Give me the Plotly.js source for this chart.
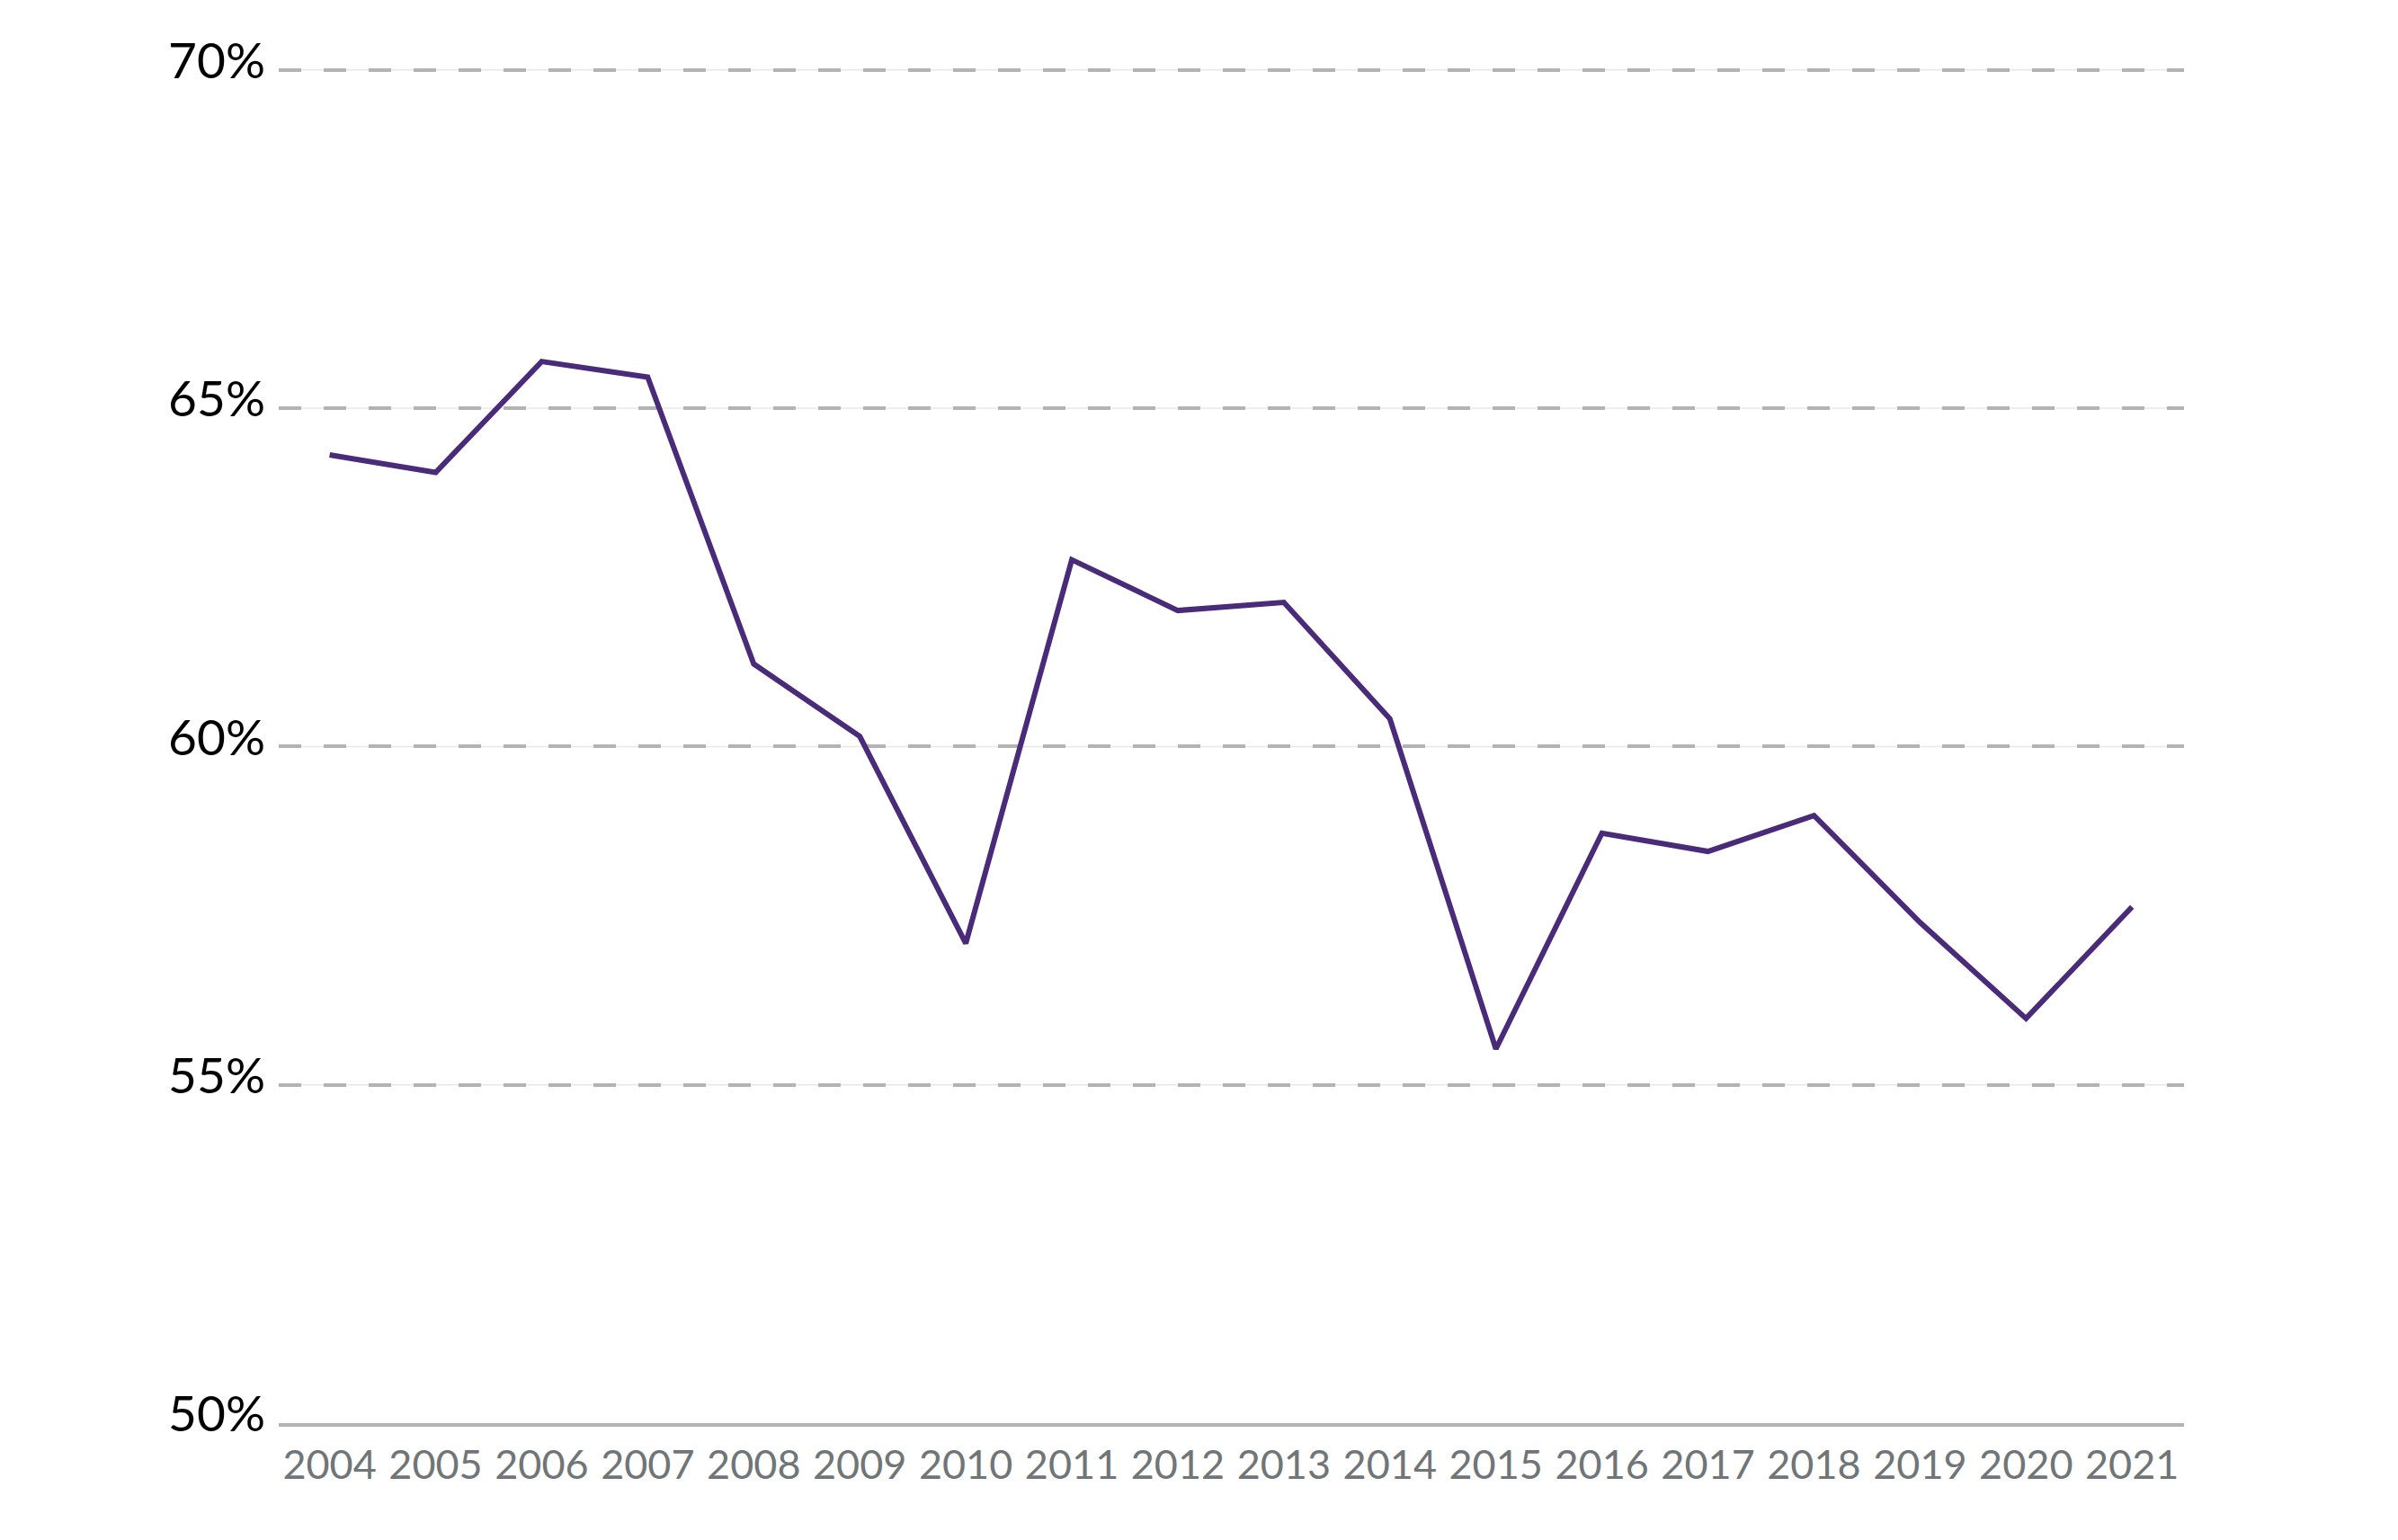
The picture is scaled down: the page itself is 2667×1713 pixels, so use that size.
<!DOCTYPE html>
<html>
<head>
<meta charset="utf-8">
<script src="https://cdn.plot.ly/plotly-3.0.1.min.js"></script>
<style>
  html, body { margin: 0; padding: 0; background: #ffffff; }
  #chart { width: 2667px; height: 1713px; }
</style>
</head>
<body>
<div id="chart"></div>
<script>
// Data
const years = [2004, 2005, 2006, 2007, 2008, 2009, 2010, 2011, 2012, 2013, 2014, 2015, 2016, 2017, 2018, 2019, 2020, 2021];
const shareValues = [64.31, 64.05, 65.69, 65.46, 61.22, 60.15, 57.09, 62.76, 62.01, 62.13, 60.41, 55.53, 58.72, 58.45, 58.98, 57.40, 55.98, 57.63];
const xTickLabels = ['2004', '2005', '2006', '2007', '2008', '2009', '2010', '2011', '2012', '2013', '2014', '2015', '2016', '2017', '2018', '2019', '2020', '2021'];
const yTickValues = [50, 55, 60, 65, 70];
const yTickLabels = ['50%', '55%', '60%', '65%', '70%'];

const FONT = 'Lato, "Open Sans", sans-serif';

const trace = {
  x: years,
  y: shareValues,
  type: 'scatter',
  mode: 'lines',
  line: { color: '#4a2b79', width: 6 },
  hoverinfo: 'x+y'
};

// thin solid rule underneath each dashed gridline (built from the tick values)
const thinRules = yTickValues.filter(v => v !== 50).map(v => ({
  type: 'line', xref: 'paper', x0: 0, x1: 1, yref: 'y', y0: v, y1: v,
  layer: 'below', line: { color: '#e8e8e8', width: 1.5 }
}));

const layout = {
  width: 2667,
  height: 1713,
  margin: { l: 310, r: 238, t: 74, b: 130, pad: 0 },
  paper_bgcolor: '#ffffff',
  plot_bgcolor: 'rgba(0,0,0,0)',
  showlegend: false,
  font: { family: FONT, color: '#000000' },
  shapes: thinRules,
  xaxis: {
    range: [2003.52, 2021.49],
    tickmode: 'array',
    tickvals: years,
    ticktext: xTickLabels,
    showgrid: false,
    zeroline: false,
    showline: true,
    linecolor: '#b3b3b3',
    linewidth: 4,
    ticks: '',
    ticklabelstandoff: 4,
    tickfont: { family: FONT, size: 45, color: '#707578', weight: 400 },
    fixedrange: true
  },
  yaxis: {
    range: [50, 70.05],
    tickmode: 'array',
    tickvals: yTickValues,
    ticktext: yTickLabels,
    showgrid: true,
    gridcolor: '#b3b3b3',
    gridwidth: 4,
    griddash: '25px,25px',
    zeroline: false,
    showline: false,
    ticks: '',
    ticklabelstandoff: 14,
    ticklabelshift: -10,
    tickfont: { family: FONT, size: 55, color: '#000000', weight: 400 },
    fixedrange: true
  }
};

Plotly.newPlot('chart', [trace], layout, { displayModeBar: false, staticPlot: true });
</script>
</body>
</html>
